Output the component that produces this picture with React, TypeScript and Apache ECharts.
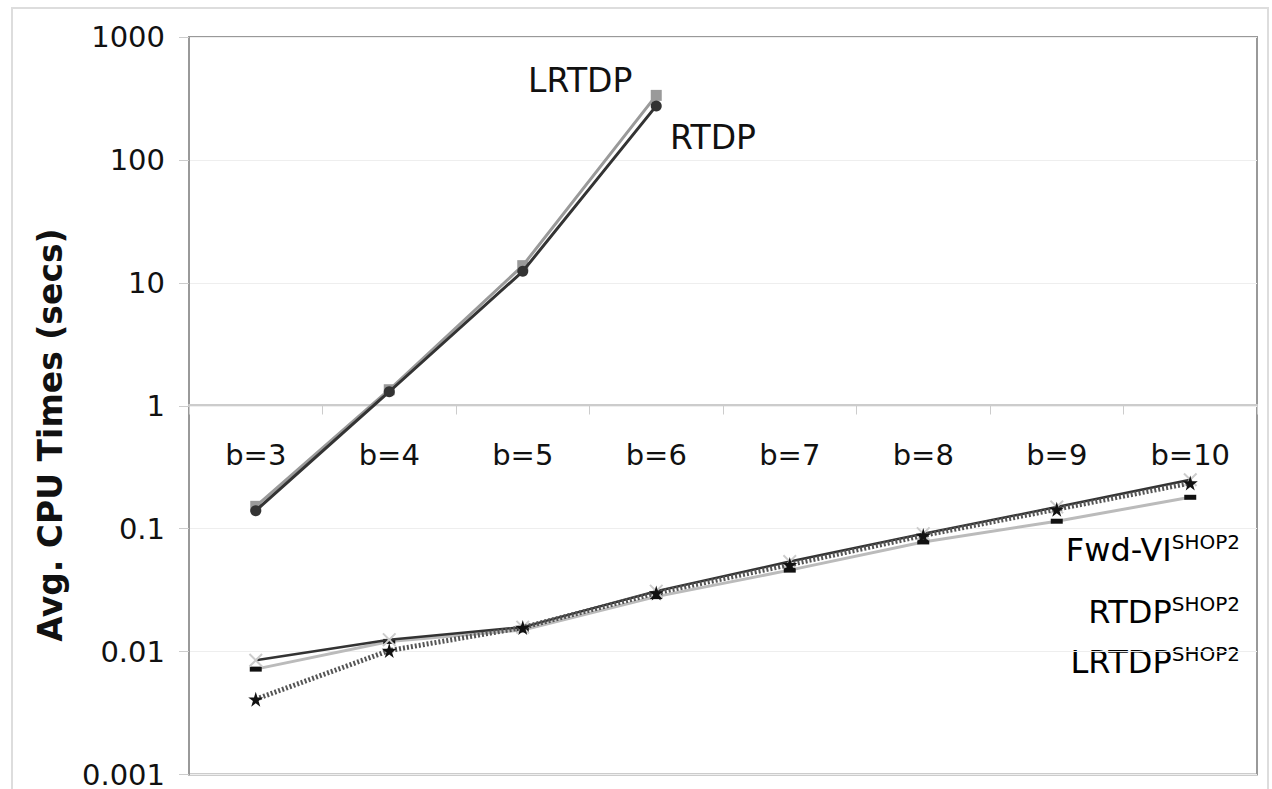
import React, { useEffect, useRef } from "react";
import * as echarts from "echarts";

const categories = ["b=3", "b=4", "b=5", "b=6", "b=7", "b=8", "b=9", "b=10"];
const yTickLabels = ["0.001", "0.01", "0.1", "1", "10", "100", "1000"];

const rtdp = [0.14, 1.3, 12.4, 275];
const lrtdp = [0.152, 1.35, 13.8, 335];
const fwdViShop2 = [0.0085, 0.0125, 0.0158, 0.031, 0.054, 0.091, 0.15, 0.25];
const rtdpShop2 = [0.0041, 0.0102, 0.0157, 0.030, 0.051, 0.088, 0.144, 0.235];
const lrtdpShop2 = [0.0072, 0.0121, 0.015, 0.028, 0.046, 0.078, 0.115, 0.18];

const FONT = "DejaVu Sans";
const STAR =
  "path://M50,0 L61,35 L98,35 L68,57 L79,91 L50,70 L21,91 L32,57 L2,35 L39,35 Z";
const XMARK =
  "path://M10,0 L50,40 L90,0 L100,10 L60,50 L100,90 L90,100 L50,60 L10,100 L0,90 L40,50 L0,10 Z";

export default function App() {
  const ref = useRef<HTMLDivElement>(null);
  useEffect(() => {
    if (!ref.current) return;
    const chart = echarts.init(ref.current, null, { renderer: "svg" });
    const supRich = {
      m: { fontSize: 32, fontFamily: FONT, color: "#111", verticalAlign: "bottom", lineHeight: 36 },
      s: { fontSize: 20, fontFamily: FONT, color: "#111", verticalAlign: "bottom", lineHeight: 36, padding: [0, 0, 14, 0] },
    };
    chart.setOption({
      animation: false,
      backgroundColor: "#fff",
      grid: {
        left: 189,
        top: 37,
        right: 15,
        bottom: 12,
        show: true,
        borderColor: "#999",
        borderWidth: 2,
        containLabel: false,
      },
      xAxis: {
        type: "category",
        data: categories,
        position: "bottom",
        offset: -370,
        boundaryGap: true,
        axisLine: { show: true, lineStyle: { color: "#ccc", width: 2 } },
        axisTick: { show: true, length: 10, lineStyle: { color: "#ccc", width: 1 } },
        axisLabel: { margin: 36, fontSize: 29, fontFamily: FONT, color: "#111" },
        splitLine: { show: false },
      },
      yAxis: {
        type: "log",
        logBase: 10,
        min: 0.001,
        max: 1000,
        axisLine: { show: true, lineStyle: { color: "#999", width: 2 } },
        axisTick: { show: true, length: 10, lineStyle: { color: "#ccc" } },
        axisLabel: {
          margin: 24,
          fontSize: 29,
          fontFamily: FONT,
          color: "#111",
          formatter: (v: number) => yTickLabels[Math.round(Math.log10(v)) + 3] ?? "",
        },
        splitLine: { show: true, lineStyle: { color: "#eee", width: 1 } },
        minorTick: { show: false },
      },
      graphic: [
        {
          type: "rect",
          shape: { x: 12, y: 8, width: 1256, height: 800 },
          style: { fill: "none", stroke: "#ddd", lineWidth: 2 },
          silent: true,
          z: -1,
        },
        {
          type: "text",
          x: 50,
          y: 435,
          rotation: Math.PI / 2,
          style: {
            text: "Avg. CPU Times (secs)",
            fontSize: 33,
            fontWeight: "bold",
            fontFamily: FONT,
            fill: "#111",
            align: "center",
            verticalAlign: "middle",
          },
        },
        {
          type: "text",
          x: 528,
          y: 80,
          style: { text: "LRTDP", fontSize: 33, fontFamily: FONT, fill: "#111", textVerticalAlign: "middle" },
        },
        {
          type: "text",
          x: 670,
          y: 137,
          style: { text: "RTDP", fontSize: 33, fontFamily: FONT, fill: "#111", textVerticalAlign: "middle" },
        },
        {
          type: "text",
          x: 1240,
          y: 548,
          style: {
            text: "{m|Fwd-VI}{s|SHOP2}",
            rich: supRich,
            align: "right",
            verticalAlign: "middle",
          },
        },
        {
          type: "text",
          x: 1240,
          y: 610,
          style: {
            text: "{m|RTDP}{s|SHOP2}",
            rich: supRich,
            align: "right",
            verticalAlign: "middle",
          },
        },
        {
          type: "text",
          x: 1240,
          y: 660,
          style: {
            text: "{m|LRTDP}{s|SHOP2}",
            rich: supRich,
            align: "right",
            verticalAlign: "middle",
          },
        },
      ],
      series: [
        {
          name: "LRTDP",
          type: "line",
          data: lrtdp,
          symbol: "rect",
          symbolSize: 11,
          lineStyle: { color: "#9a9a9a", width: 3 },
          itemStyle: { color: "#9a9a9a" },
          z: 2,
        },
        {
          name: "RTDP",
          type: "line",
          data: rtdp,
          symbol: "circle",
          symbolSize: 11,
          lineStyle: { color: "#333", width: 3 },
          itemStyle: { color: "#333" },
          z: 3,
        },
        {
          name: "LRTDP SHOP2",
          type: "line",
          data: lrtdpShop2,
          symbol: "rect",
          symbolSize: [12, 5],
          lineStyle: { color: "#bbb", width: 3 },
          itemStyle: { color: "#111" },
          z: 2,
        },
        {
          name: "Fwd-VI SHOP2",
          type: "line",
          data: fwdViShop2,
          symbol: XMARK,
          symbolSize: 14,
          lineStyle: { color: "#333", width: 2.5 },
          itemStyle: { color: "#ccc" },
          z: 3,
        },
        {
          name: "RTDP SHOP2",
          type: "line",
          data: rtdpShop2,
          symbol: STAR,
          symbolSize: 15,
          lineStyle: { color: "#555", width: 5, type: [2, 2] },
          itemStyle: { color: "#111" },
          z: 4,
        },
      ],
    });
    return () => chart.dispose();
  }, []);
  return (
    <div
      ref={ref}
      style={{ position: "fixed", left: 0, top: 0, width: 1272, height: 789 }}
    />
  );
}
